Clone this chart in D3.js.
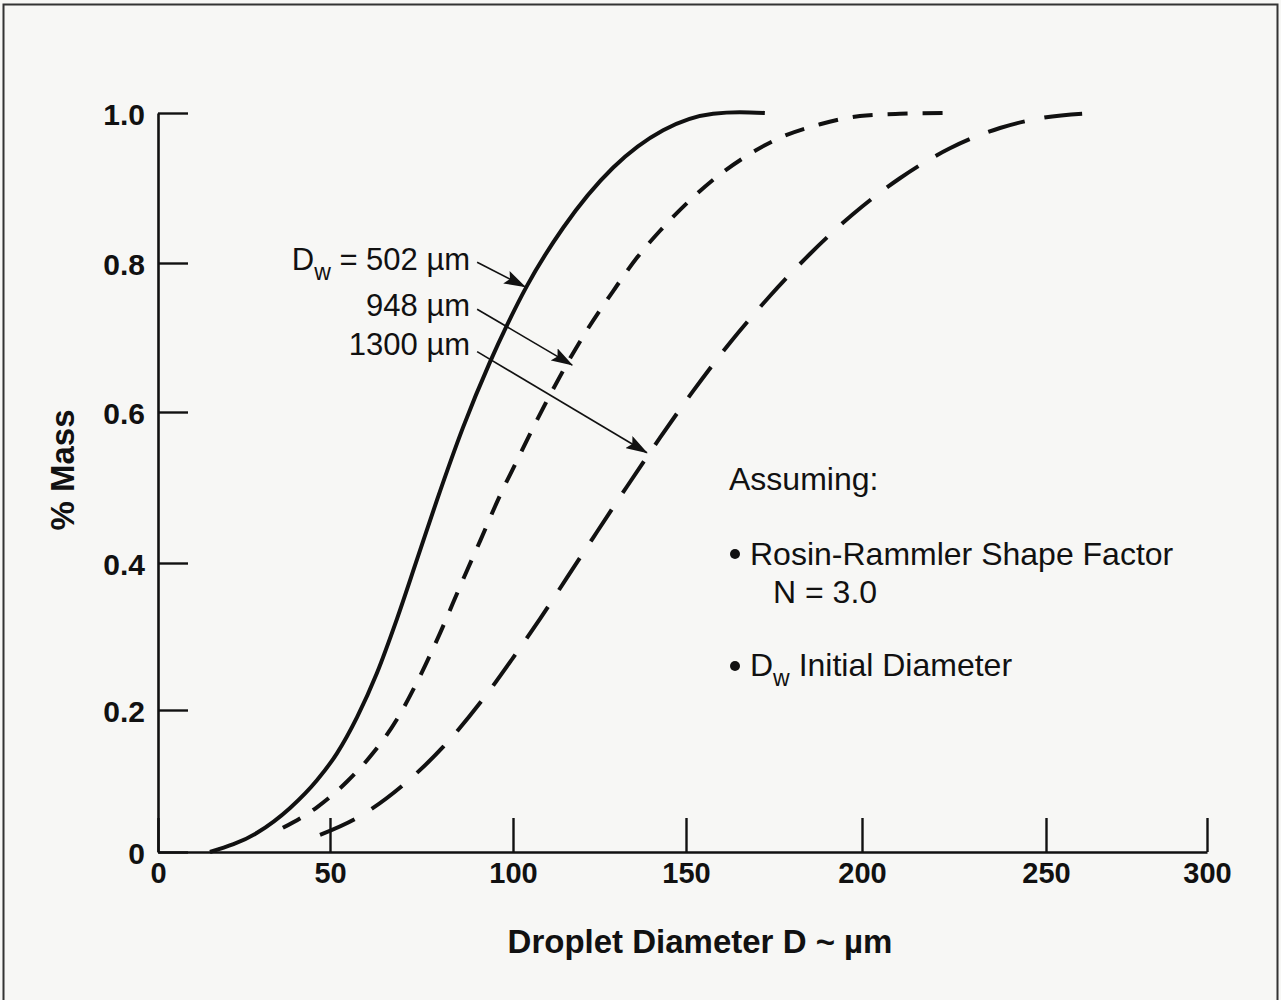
<!DOCTYPE html>
<html>
<head>
<meta charset="utf-8">
<script src="https://cdn.jsdelivr.net/npm/d3@7"></script>
<style>
  html, body { margin: 0; padding: 0; background: #f7f7f5; }
  svg { display: block; }
  text { font-family: "Liberation Sans", Arial, Helvetica, sans-serif; fill: #111; }
</style>
</head>
<body>
<script>
// ---- Data ----
const xTicks = [0, 50, 100, 150, 200, 250, 300];
const yTicks = [0, 0.2, 0.4, 0.6, 0.8, 1.0];
const yTickLabels = ["0", "0.2", "0.4", "0.6", "0.8", "1.0"];

const seriesNames = ["Dw = 502 µm", "948 µm", "1300 µm"];

const d502 = [15.1, 28.8, 38.4, 46.2, 51.9, 57.4, 62.8, 68.3, 73.8, 79.2, 86.3, 93.7, 98.4, 104.0, 114.5, 128.9, 143.4, 157.7, 165.3, 172.4];
const m502 = [0, 0.027, 0.062, 0.101, 0.139, 0.190, 0.250, 0.324, 0.405, 0.483, 0.579, 0.667, 0.717, 0.769, 0.847, 0.927, 0.977, 0.999, 1.001, 1.0];

const d948 = [36.3, 46.2, 54.6, 61.7, 68.3, 73.8, 80.1, 86.3, 91.0, 96.4, 101.2, 105.8, 110.7, 116.5, 121.4, 128.9, 135.8, 142.5, 150.3, 158.8, 167.3, 176.7, 188.1, 199.4, 210.3, 222.6];
const m948 = [0.034, 0.063, 0.099, 0.139, 0.187, 0.238, 0.305, 0.377, 0.429, 0.489, 0.536, 0.579, 0.623, 0.672, 0.710, 0.762, 0.807, 0.843, 0.880, 0.915, 0.943, 0.967, 0.985, 0.996, 0.999, 1.0];

const d1300 = [47.1, 57.4, 69.9, 80.9, 92.3, 100, 107.8, 115.6, 123.1, 132.9, 142.5, 152.0, 162.5, 173.9, 185.2, 197.4, 210.3, 223.9, 237.5, 248.4, 264.6];
const m1300 = [0.024, 0.048, 0.094, 0.148, 0.218, 0.271, 0.324, 0.380, 0.433, 0.501, 0.566, 0.628, 0.693, 0.756, 0.812, 0.865, 0.913, 0.953, 0.980, 0.993, 1.0];

// arrow start (label anchor) and tip, in data units
const arrowFromD = [90.2, 90.2, 90.2];
const arrowFromM = [0.801, 0.738, 0.681];
const arrowToD = [103.5, 117.1, 138.7];
const arrowToM = [0.768, 0.663, 0.546];

// ---- Drawing ----
const W = 1281, H = 1000;
const svg = d3.select("body").append("svg").attr("width", W).attr("height", H);

svg.append("rect").attr("x", 0).attr("y", 0).attr("width", W).attr("height", H).attr("fill", "#f7f7f5");
// frame
svg.append("path").attr("d", `M3.5,${H + 5} V4.5 H1277.5 V${H + 5}`)
  .attr("fill", "none").attr("stroke", "#333").attr("stroke-width", 2);

const x = d3.scaleLinear().domain(xTicks).range([158, 330, 513, 686, 862, 1046, 1207]);
const y = d3.scaleLinear().domain(yTicks).range([852, 710, 563, 412, 263, 113]);

// x axis
const gx = svg.append("g").attr("transform", `translate(0,${y(0)})`)
  .call(d3.axisBottom(x).tickValues(xTicks).tickFormat(d3.format("d"))
    .tickSizeInner(-34).tickSizeOuter(0).tickPadding(10));
gx.select(".domain").attr("stroke", "#111").attr("stroke-width", 2.6);
gx.selectAll(".tick line").attr("stroke", "#111").attr("stroke-width", 2.4);
gx.selectAll(".tick text").attr("fill", "#111")
  .style("font-family", "'Liberation Sans', Arial, sans-serif")
  .style("font-weight", "bold").style("font-size", "29px");

// y axis
const gy = svg.append("g").attr("transform", `translate(${x(0)},0)`)
  .call(d3.axisLeft(y).tickValues(yTicks).tickFormat((d, i) => yTickLabels[i])
    .tickSizeInner(-30).tickSizeOuter(0).tickPadding(13));
gy.select(".domain").attr("stroke", "#111").attr("stroke-width", 2.6);
gy.selectAll(".tick line").attr("stroke", "#111").attr("stroke-width", 2.4);
gy.selectAll(".tick text").attr("fill", "#111").attr("dy", "0.38em")
  .style("font-family", "'Liberation Sans', Arial, sans-serif")
  .style("font-weight", "bold").style("font-size", "30px");

// axis titles
svg.append("text").attr("x", 700).attr("y", 953).attr("text-anchor", "middle")
  .style("font-weight", "bold").style("font-size", "33px").text("Droplet Diameter D ~ µm");
svg.append("text").attr("transform", "translate(74,470) rotate(-90)").attr("text-anchor", "middle")
  .style("font-weight", "bold").style("font-size", "33px").text("% Mass");

// curves
const line = d3.line().x(d => x(d[0])).y(d => y(d[1])).curve(d3.curveMonotoneX);
const series = [
  { pts: d3.zip(d502, m502), dash: null },
  { pts: d3.zip(d948, m948), dash: "20,15" },
  { pts: d3.zip(d1300, m1300), dash: "38,20" }
];
svg.append("g").selectAll("path").data(series).join("path")
  .attr("d", s => line(s.pts))
  .attr("fill", "none").attr("stroke", "#111").attr("stroke-width", 4)
  .attr("stroke-dasharray", s => s.dash);

// arrowhead marker
svg.append("defs").append("marker").attr("id", "ah")
  .attr("markerUnits", "userSpaceOnUse").attr("markerWidth", 22).attr("markerHeight", 14)
  .attr("refX", 21).attr("refY", 7).attr("orient", "auto")
  .append("path").attr("d", "M0,0 L22,7 L0,14 L4,7 Z").attr("fill", "#111");

const arrows = d3.range(3).map(i => ({
  x1: arrowFromD[i], y1: arrowFromM[i], x2: arrowToD[i], y2: arrowToM[i], name: seriesNames[i]
}));
svg.append("g").selectAll("line").data(arrows).join("line")
  .attr("x1", d => x(d.x1)).attr("y1", d => y(d.y1))
  .attr("x2", d => x(d.x2)).attr("y2", d => y(d.y2))
  .attr("stroke", "#111").attr("stroke-width", 1.6).attr("marker-end", "url(#ah)");

// annotation labels
const labOff = [8, 7, 3];
arrows.forEach((a, i) => {
  const t = svg.append("text").attr("x", x(a.x1) - 7).attr("y", y(a.y1) + labOff[i])
    .attr("text-anchor", "end").style("font-size", "31px");
  if (i === 0) {
    t.append("tspan").text("D");
    t.append("tspan").attr("dy", 10).style("font-size", "23px").text("w");
    t.append("tspan").attr("dy", -10).text(" = 502 µm");
  } else {
    t.text(a.name);
  }
});

// "Assuming" note
const note = svg.append("g");
note.append("text").attr("x", 729).attr("y", 490).style("font-size", "32px").text("Assuming:");
note.append("circle").attr("cx", 735).attr("cy", 554).attr("r", 5).attr("fill", "#111");
note.append("text").attr("x", 750).attr("y", 565).style("font-size", "32px").text("Rosin-Rammler Shape Factor");
note.append("text").attr("x", 773).attr("y", 603).style("font-size", "32px").text("N = 3.0");
note.append("circle").attr("cx", 735).attr("cy", 666).attr("r", 5).attr("fill", "#111");
const dt = note.append("text").attr("x", 750).attr("y", 676).style("font-size", "32px");
dt.append("tspan").text("D");
dt.append("tspan").attr("dy", 10).style("font-size", "23px").text("w");
dt.append("tspan").attr("dy", -10).text(" Initial Diameter");
</script>
</body>
</html>
